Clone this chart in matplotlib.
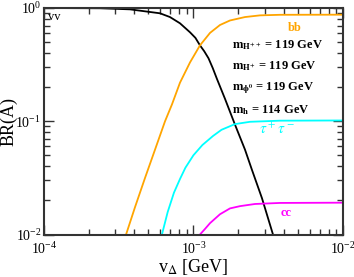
import numpy as np
import matplotlib
matplotlib.use("Agg")
import matplotlib.pyplot as plt
from matplotlib.ticker import LogLocator, NullFormatter

plt.rcParams['font.family'] = ['Liberation Serif', 'DejaVu Serif']
plt.rcParams['mathtext.fontset'] = 'stix'

# values: v_Delta [GeV] and BR
v_vv = [1.0e-4, 2.37e-4, 3.76e-4, 5.97e-4, 6.96e-4, 8.12e-4, 9.48e-4, 1.03e-3,
        1.105e-3, 1.18e-3, 1.26e-3, 1.345e-3, 1.436e-3, 1.624e-3, 1.895e-3,
        2.21e-3, 2.461e-3, 2.872e-3, 3.402e-3]
br_vv = [1.0, 0.995, 0.973, 0.898, 0.832, 0.733, 0.610, 0.545,
         0.468, 0.415, 0.360, 0.295, 0.236, 0.158, 0.0933,
         0.0562, 0.0372, 0.0209, 0.0100]

v_bb = [3.54e-4, 4.06e-4, 4.74e-4, 5.53e-4, 6.45e-4, 7.18e-4, 8.12e-4, 9.48e-4,
        1.105e-3, 1.29e-3, 1.504e-3, 1.754e-3, 2.21e-3, 2.785e-3, 3.79e-3, 1.0e-2]
br_bb = [0.0100, 0.0174, 0.0316, 0.0562, 0.100, 0.141, 0.219, 0.331,
         0.468, 0.603, 0.708, 0.776, 0.832, 0.861, 0.871, 0.873]

v_tt = [6.15e-4, 6.72e-4, 7.40e-4, 8.12e-4, 8.83e-4, 9.99e-4, 1.147e-3, 1.35e-3,
        1.54e-3, 1.895e-3, 2.387e-3, 3.79e-3, 1.0e-2]
br_tt = [0.0100, 0.0158, 0.0234, 0.0309, 0.0389, 0.0501, 0.0617, 0.0741,
         0.0841, 0.0944, 0.0989, 0.1012, 0.1016]

v_cc = [1.105e-3, 1.194e-3, 1.29e-3, 1.504e-3, 1.754e-3, 2.047e-3, 2.578e-3,
        3.79e-3, 1.0e-2]
br_cc = [0.0100, 0.0112, 0.0126, 0.0151, 0.0170, 0.0178, 0.0186, 0.0190, 0.0191]

fig = plt.figure(figsize=(3.54, 2.77), dpi=100)
ax = fig.add_axes([0.1243, 0.1534, 0.8446, 0.8177])

ax.plot(v_vv, br_vv, color='black', lw=1.3)
ax.plot(v_bb, br_bb, color='#FFA500', lw=1.3)
ax.plot(v_tt, br_tt, color='#00FFFF', lw=1.3)
ax.plot(v_cc, br_cc, color='#FF00FF', lw=1.3)

ax.set_xscale('log')
ax.set_yscale('log')
ax.set_xlim(1e-4, 1e-2)
ax.set_ylim(1e-2, 1)

ax.xaxis.set_major_locator(LogLocator(base=10, numticks=5))
ax.xaxis.set_minor_locator(LogLocator(base=10, subs=np.arange(2, 10), numticks=20))
ax.yaxis.set_minor_locator(LogLocator(base=10, subs=np.arange(2, 10), numticks=20))
ax.xaxis.set_minor_formatter(NullFormatter())
ax.yaxis.set_minor_formatter(NullFormatter())

ax.tick_params(which='both', direction='in', top=True, right=True,
               labelsize=10, color='#333333')
ax.tick_params(which='major', length=7, width=1)
ax.tick_params(which='minor', length=4, width=1)
ax.tick_params(axis='x', pad=5)
ax.tick_params(axis='y', pad=2)
for s in ax.spines.values():
    s.set_linewidth(1.5)
    s.set_color('#333333')

ax.set_xlabel(r'v$_\Delta$ [GeV]', fontsize=13)
ax.xaxis.set_label_coords(0.5, -0.1)
ax.set_ylabel('BR(A)', fontsize=13)
ax.yaxis.set_label_coords(-0.088, 0.5)

ax.text(1.06e-4, 0.78, 'vv', fontsize=9)
ax.text(0.84, 0.91, 'bb', transform=ax.transAxes, color='#FFA500',
        fontsize=9, fontweight='bold', ha='center', va='center')
labels = [r'$\mathbf{m_{H^{++}}}$', r'$\mathbf{m_{H^{+}}}$',
          r'$\mathbf{m_{\phi^{0}}}$', r'$\mathbf{m_{h}}$']
masses = ['119', '119', '119', '114']
for i, (lab, m) in enumerate(zip(labels, masses)):
    ax.text(0.63, 0.838 - i * 0.096, lab + ' = ' + m + ' GeV',
            transform=ax.transAxes, fontsize=9, fontweight='bold',
            va='center')
ax.text(0.78, 0.465, r'$\tau^+\tau^-$', transform=ax.transAxes,
        color='#00FFFF', fontsize=11, ha='center', va='center')
ax.text(0.81, 0.095, 'cc', transform=ax.transAxes, color='#FF00FF',
        fontsize=9, fontweight='bold', ha='center', va='center')

fig.savefig('out.png', dpi=100)
